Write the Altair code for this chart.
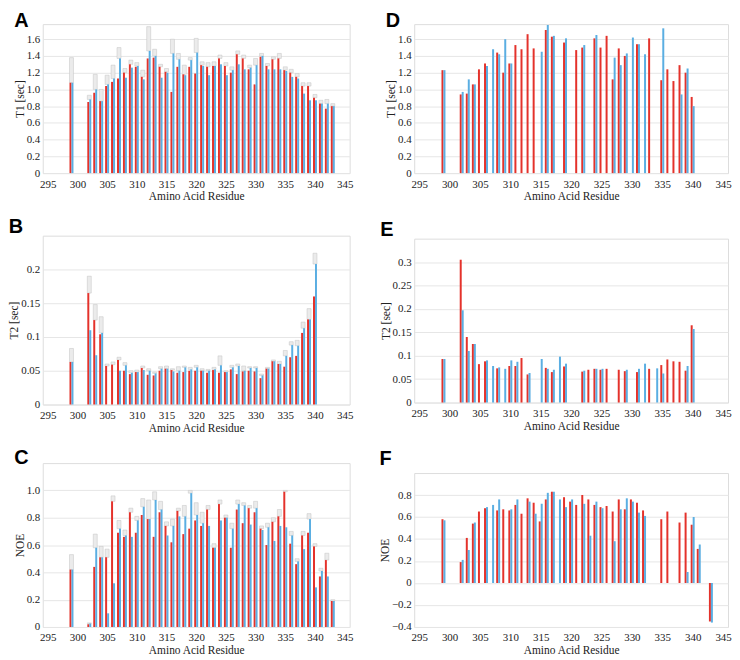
import altair as alt
import numpy as np
import pandas as pd

N = None
RED = "#e4322b"
BLUE = "#5aaee2"
SERIF = "Liberation Serif"
SANS = "Liberation Sans"
XTICKS = [295, 300, 305, 310, 315, 320, 325, 330, 335, 340, 345]

RES_LONG = [299] + list(range(302, 344))   # 299, 302..343
RES_SHORT = [299] + list(range(302, 341))  # 299, 302..340

# ---- A: T1 ----
A_red = [1.08, 0.85, 0.96, 0.86, 1.04, 1.09, 1.13, 1.20, 1.30, 1.27, 1.15,
         1.37, 1.38, 1.27, 1.21, 0.97, 1.27, 1.18, 1.27, 1.19,
         1.29, 1.27, 1.28, 1.37, 1.28, 1.20, 1.42, 1.37, 1.24, 1.06,
         1.39, 1.28, 1.36, 1.37, 1.23, 1.20, 1.15, 1.04, 1.04, 0.90,
         0.83, 0.77, 0.80]
A_blue = [1.08, 0.88, 1.00, 0.86, 1.06, 1.13, 1.37, 1.14, 1.26, 1.28, 1.12,
          1.46, 1.40, 1.14, 1.20, 1.43, 1.36, 1.17, 1.35, 1.44,
          1.28, 1.17, 1.28, 1.30, 1.17, 1.23, 1.30, 1.24, 1.26, 1.29,
          1.40, 1.24, 1.24, 1.24, 1.22, 1.15, 1.13, 0.95, 0.87, 0.87,
          0.83, 0.83, 0.80]
A_err = [1.38, 0.93, 1.18, 1.00, 1.17, 1.29, 1.50, 1.25, 1.35, 1.32, 1.23,
         1.75, 1.48, 1.30, 1.25, 1.60, 1.43, 1.29, 1.38, 1.61,
         1.33, 1.32, 1.33, 1.41, 1.32, 1.27, 1.46, 1.41, 1.29, 1.37,
         1.43, 1.31, 1.39, 1.43, 1.27, 1.24, 1.19, 1.08, 1.08, 0.94,
         0.87, 0.88, 0.83]

# ---- B: T2 ----
B_red = [0.063, 0.165, 0.125, 0.104, 0.057, 0.059, 0.066, 0.050, 0.045, 0.048, 0.054,
         0.044, 0.043, 0.050, 0.053, 0.051, 0.047, 0.048, 0.050, 0.050,
         0.050, 0.047, 0.051, 0.047, 0.048, 0.052, 0.045, 0.049, 0.050, 0.049,
         0.039, 0.053, 0.064, 0.060, 0.056, 0.070, 0.072, 0.106, 0.126, 0.160]
B_blue = [0.063, 0.110, 0.073, 0.106, N, N, 0.050, 0.058, 0.047, 0.048, 0.051,
          0.050, 0.046, 0.053, 0.053, 0.049, 0.050, 0.055, 0.052, 0.055,
          0.050, 0.050, 0.052, 0.058, 0.048, 0.055, 0.057, 0.050, 0.054, 0.054,
          0.043, 0.053, 0.064, 0.060, 0.072, 0.088, 0.087, 0.113, 0.126, 0.208]
B_err = [0.083, 0.190, 0.148, 0.130, 0.060, 0.063, 0.070, 0.062, 0.050, 0.051, 0.057,
         0.053, 0.048, 0.056, 0.057, 0.053, 0.056, 0.057, 0.055, 0.058,
         0.053, 0.052, 0.055, 0.072, 0.050, 0.058, 0.060, 0.057, 0.056, 0.056,
         0.045, 0.055, 0.066, 0.064, 0.080, 0.093, 0.095, 0.122, 0.142, 0.224]

# ---- C: NOE ----
C_red = [0.42, 0.02, 0.44, 0.51, 0.51, 0.92, 0.69, 0.66, 0.84, 0.69, 0.82,
         0.79, 0.66, 0.84, 0.74, 0.62, 0.85, 0.68, 0.72, 0.78,
         0.74, 0.86, 0.58, 0.90, 0.80, 0.58, 0.86, 0.76, 0.87, 0.84,
         0.72, 0.60, 0.77, 0.81, 0.99, 0.61, 0.46, 0.67, 0.69, 0.59,
         0.37, 0.49, 0.19]
C_blue = [0.42, 0.025, 0.58, 0.51, 0.10, 0.32, 0.72, 0.67, 0.66, 0.78, 0.88,
          0.79, 0.93, 0.86, 0.67, 0.74, 0.81, 0.81, 0.98, 0.82,
          0.76, 0.74, 0.58, 0.78, 0.80, 0.72, 0.90, 0.89, 0.75, 0.87,
          0.71, 0.73, 0.63, 0.74, 0.73, 0.67, 0.48, 0.57, 0.79, 0.29,
          0.41, 0.37, 0.19]
C_err = [0.53, 0.03, 0.68, 0.59, 0.57, 0.96, 0.78, 0.71, 0.87, 0.81, 0.94,
         0.93, 0.99, 0.92, 0.77, 0.79, 0.87, 0.89, 1.00, 0.91,
         0.84, 0.89, 0.61, 0.93, 0.82, 0.76, 0.93, 0.91, 0.89, 0.92,
         0.74, 0.76, 0.80, 0.86, 1.00, 0.70, 0.50, 0.70, 0.83, 0.61,
         0.43, 0.54, 0.20]

# ---- D: T1 ----
D_red = [1.23, 0.94, 0.95, 1.06, 1.24, 1.31, N, 1.44, 1.20, 1.31, 1.53,
         1.48, 1.66, 1.49, N, 1.71, 1.63, N, 1.56, N,
         1.47, 1.50, N, 1.61, 1.50, 1.64, 1.12, 1.49, 1.40, N,
         1.54, N, 1.61, N, 1.11, 1.24, 1.10, 1.29, 1.20, 0.91]
D_blue = [1.23, 0.97, 1.12, 1.06, N, 1.28, 1.48, 1.42, 1.60, 1.31, N,
          N, N, N, 1.45, 1.77, 1.64, N, 1.61, N,
          N, 1.53, N, 1.65, N, N, 1.38, 1.29, 1.43, 1.62,
          1.54, 1.42, N, N, 1.73, N, N, 0.94, 1.25, 0.80]

# ---- E: T2 ----
E_red = [0.093, 0.305, 0.140, 0.125, 0.082, 0.088, N, 0.073, N, 0.078, 0.078,
         0.095, 0.060, N, N, 0.074, 0.065, N, 0.077, N,
         N, 0.066, 0.070, 0.072, 0.070, 0.072, N, 0.070, 0.067, N,
         0.065, N, 0.072, N, 0.080, 0.092, 0.088, 0.087, 0.068, 0.165]
E_blue = [0.093, 0.197, 0.110, 0.125, N, 0.090, 0.078, 0.075, 0.072, 0.090, 0.087,
          N, 0.063, N, 0.093, 0.072, 0.070, 0.098, 0.083, N,
          N, 0.068, N, 0.072, 0.072, N, N, N, 0.070, N,
          0.072, 0.083, N, 0.073, 0.062, N, N, N, 0.078, 0.157]

# ---- F: NOE ----
F_red = [0.58, 0.19, 0.41, 0.54, 0.65, 0.68, N, 0.66, 0.67, 0.66, 0.71,
         0.63, 0.77, 0.73, 0.56, 0.76, 0.83, N, 0.78, 0.74,
         0.71, 0.80, 0.76, 0.71, 0.69, 0.70, 0.65, 0.76, 0.67, 0.76,
         0.73, 0.66, N, N, 0.58, 0.65, N, 0.55, 0.64, 0.53,
         0.31, N, -0.35]
F_blue = [0.57, 0.21, 0.30, 0.55, N, 0.69, 0.71, 0.76, N, 0.67, 0.76,
          N, 0.74, 0.63, 0.72, 0.82, 0.83, 0.76, 0.69, 0.76,
          N, 0.72, 0.43, 0.74, 0.68, N, 0.38, 0.67, 0.77, 0.74,
          0.64, 0.61, N, N, N, N, N, N, 0.10, 0.60,
          0.35, N, -0.36]

FMT1 = "datum.value == 0 ? '0' : format(datum.value, '.1f')"
FMTG = "datum.value == 0 ? '0' : format(datum.value, '~g')"


def panel(letter, res, red, blue, err, ytitle, dom, ticks, h, w, toff, lexpr):
    df = pd.DataFrame({"res": res, "red": red, "blue": blue}, dtype=float)
    x = alt.X("res:Q", scale=alt.Scale(domain=[295, 345], nice=False, zero=False),
              axis=alt.Axis(values=XTICKS, title="Amino Acid Residue", grid=False,
                            domain=False, ticks=False, tickSize=0, labelPadding=5,
                            titlePadding=2, labelFont=SERIF, titleFont=SERIF,
                            labelFontSize=11, titleFontSize=11.5,
                            titleFontWeight="normal", labelColor="#222",
                            titleColor="#222", labelFlush=False))
    ysc = alt.Scale(domain=dom, nice=False, zero=True)
    yax = alt.Axis(title=ytitle, values=ticks, labelExpr=lexpr, grid=True,
                   gridColor="#e6e6e6", domain=False, ticks=False, tickSize=0,
                   labelPadding=3, titlePadding=1, labelFont=SERIF, titleFont=SERIF,
                   labelFontSize=11, titleFontSize=11.5, titleFontWeight="normal",
                   labelColor="#222", titleColor="#222")
    layers = []
    if err is not None:
        df["err"] = pd.Series(err, dtype=float)
        df["base"] = np.fmax(df["red"], df["blue"])
        layers.append(
            alt.Chart(df).mark_bar(size=4, color="#ebebeb", stroke="#c2c2c2",
                                   strokeWidth=0.5)
            .encode(x=x, y=alt.Y("base:Q", scale=ysc, axis=yax), y2="err:Q")
        )
    layers.append(
        alt.Chart(df).mark_bar(size=2, xOffset=-1, color=RED)
        .encode(x=x, y=alt.Y("red:Q", scale=ysc, axis=yax))
    )
    layers.append(
        alt.Chart(df).mark_bar(size=2, xOffset=1, color=BLUE)
        .encode(x=x, y=alt.Y("blue:Q", scale=ysc, axis=yax))
    )
    return alt.layer(*layers).properties(
        width=w, height=h,
        title=alt.TitleParams(letter, anchor="start", frame="bounds", fontSize=20,
                              fontWeight="bold", font=SANS, color="black",
                              offset=toff),
    )


T1_TICKS = [0, 0.2, 0.4, 0.6, 0.8, 1.0, 1.2, 1.4, 1.6]
T2B_TICKS = [0, 0.05, 0.1, 0.15, 0.2]
T2E_TICKS = [0, 0.05, 0.1, 0.15, 0.2, 0.25, 0.3]
NOEC_TICKS = [0, 0.2, 0.4, 0.6, 0.8, 1.0]
NOEF_TICKS = [-0.4, -0.2, 0, 0.2, 0.4, 0.6, 0.8]

WL, WR = 309, 316

pA = panel("A", RES_LONG, A_red, A_blue, A_err, "T1 [sec]", [0, 1.78], T1_TICKS, 150, WL, -7, FMT1)
pB = panel("B", RES_SHORT, B_red, B_blue, B_err, "T2 [sec]", [0, 0.25], T2B_TICKS, 170, WL, -1, FMTG)
pC = panel("C", RES_LONG, C_red, C_blue, C_err, "NOE", [0, 1.2], NOEC_TICKS, 165, WL, -5, FMT1)
pD = panel("D", RES_SHORT, D_red, D_blue, None, "T1 [sec]", [0, 1.78], T1_TICKS, 150, WR, -7, FMT1)
pE = panel("E", RES_SHORT, E_red, E_blue, None, "T2 [sec]", [0, 0.35], T2E_TICKS, 165, WR, -1, FMTG)
pF = panel("F", RES_LONG, F_red, F_blue, None, "NOE", [-0.4, 1.0], NOEF_TICKS, 155, WR, 4, FMT1)

left = alt.vconcat(pA, pB, pC, spacing=13)
right = alt.vconcat(pD, pE, pF, spacing=16)

chart = alt.hconcat(left, right, spacing=25).properties(padding=0).configure_view(
    stroke="#d9d9d9", strokeWidth=1
).configure(background="white")

chart.save("out.html", embed_options={"renderer": "svg", "actions": False})
